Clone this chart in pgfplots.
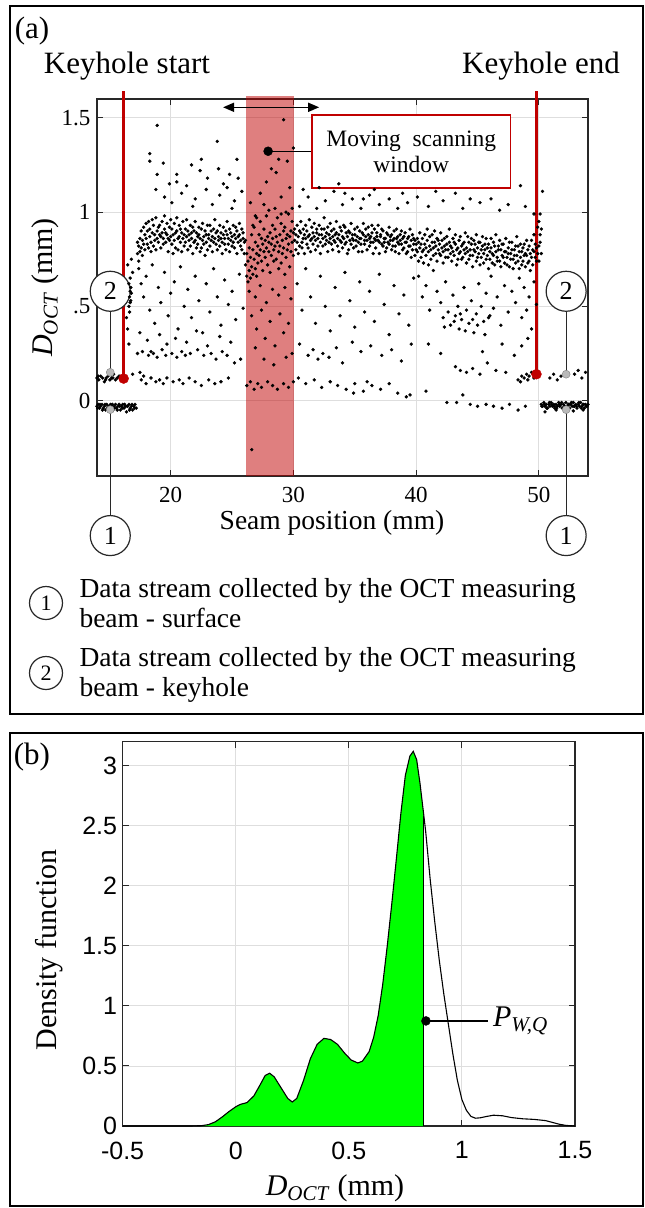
\documentclass[border=0pt]{standalone}
\usepackage{fontspec}
\setmainfont{Liberation Serif}
\newfontfamily\arialfont{Liberation Sans}
\usepackage{pgfplots}
\pgfplotsset{compat=1.18}
\usetikzlibrary{arrows.meta}
\definecolor{matred}{RGB}{192,0,0}
\definecolor{gridgray}{RGB}{222,222,222}
\definecolor{axgray}{RGB}{40,40,40}
\definecolor{dotgray}{RGB}{185,185,185}
\definecolor{kdegreen}{RGB}{0,255,0}

\pgfplotsset{matlab/.style={
  scale only axis, clip=false,
  axis line style={draw=axgray,line width=1.2pt},
  tick style={draw=axgray,line width=1pt}, major tick length=6pt,
  tick align=inside, xtick pos=both, ytick pos=both,
  grid=major, major grid style={draw=gridgray,line width=0.9pt},
  /pgf/number format/assume math mode=true,
}}
\newcommand{\doct}{\textit{D}\textsubscript{\textit{OCT}}}

\begin{document}
\begin{tikzpicture}
\useasboundingbox (0pt,0pt) rectangle (645pt,-1208pt);
\draw[line width=1.2pt] (10pt,-6pt) rectangle (643pt,-714pt);
\draw[line width=1.2pt] (10pt,-733pt) rectangle (643pt,-1206pt);

% ---------------- panel (a)
\begin{axis}[matlab, at={(97pt,-476pt)}, anchor=south west,
  width=491pt, height=377pt,
  xmin=14, xmax=54, ymin=-0.4, ymax=1.6,
  xtick={20,30,40,50}, ytick={0,0.5,1,1.5}, yticklabels={0,.5,1,1.5},
  tick label style={font=\fontsize{23}{23}\selectfont},
  xticklabel style={yshift=-8pt}, yticklabel style={xshift=-3pt},
]
% surface and keyhole streams, left
\addplot[only marks, mark=*, mark size=1.5pt, black] coordinates {
(14.0,-0.03)(14.1,-0.02)(14.2,-0.04)(14.3,-0.03)(14.4,-0.02)(14.5,-0.04)(14.6,-0.03)(14.7,-0.05)(14.8,-0.02)(14.9,-0.03)
(15.0,-0.04)(15.1,-0.02)(15.2,-0.03)(15.3,-0.05)(15.4,-0.03)(15.5,-0.02)(15.6,-0.04)(15.7,-0.03)(15.8,-0.02)(15.9,-0.05)
(16.0,-0.03)(16.1,-0.02)(16.2,-0.04)(16.3,-0.03)(16.4,-0.06)(16.5,-0.03)(16.6,-0.02)(16.7,-0.04)(16.8,-0.03)(16.9,-0.05)
(17.0,-0.03)(17.1,-0.02)(17.2,-0.04)(14.05,-0.04)(14.25,-0.02)(14.45,-0.05)(14.65,-0.02)(14.85,-0.04)(15.05,-0.03)
(15.25,-0.02)(15.45,-0.04)(15.65,-0.05)(15.85,-0.03)(16.05,-0.04)(16.25,-0.02)(16.45,-0.03)(16.65,-0.05)(16.85,-0.02)(17.05,-0.04)
(14.0,0.12)(14.15,0.11)(14.3,0.13)(14.45,0.12)(14.6,0.10)(14.75,0.12)(14.9,0.13)(15.05,0.11)(15.2,0.12)(15.35,0.14)
(15.5,0.11)(15.65,0.12)(15.8,0.13)(15.95,0.11)(14.1,0.13)(14.7,0.11)(15.3,0.12)(15.9,0.12)
(16.9,0.14)(17.5,0.15)(17.8,0.13)
(16.6,0.62)(16.7,0.58)(16.65,0.55)(16.75,0.60)(16.7,0.52)(16.6,0.50)(16.8,0.57)(16.7,0.65)(16.65,0.47)(16.75,0.53)
(16.5,0.72)(16.5,0.38)(16.6,0.30)(16.8,0.75)(16.9,0.68)(16.4,0.44)
% main band
(17.3,0.78)(17.3,0.84)(17.4,0.82)(17.4,0.74)(17.5,0.86)(17.5,0.79)(17.6,0.81)(17.6,0.90)(17.7,0.85)(17.7,0.77)
(17.8,0.92)(17.8,0.83)(17.9,0.80)(17.9,0.88)(18.0,0.86)(18.0,0.94)(18.1,0.83)(18.1,0.90)(18.2,0.95)(18.2,0.81)
(18.3,0.87)(18.3,0.91)(18.4,0.84)(18.4,0.79)(18.5,0.89)(18.5,0.96)(18.6,0.82)(18.6,0.93)(18.7,0.88)(18.7,0.85)
(18.8,0.97)(18.8,0.80)(18.9,0.90)(18.9,0.86)(19.0,0.84)(19.0,0.92)(19.1,0.93)(19.1,0.88)(19.2,0.81)(19.2,0.87)
(19.3,0.95)(19.3,0.89)(19.4,0.86)(19.4,0.83)(19.5,0.91)(19.5,0.98)(19.6,0.84)(19.6,0.89)(19.7,0.88)(19.7,0.94)
(19.8,0.79)(19.8,0.86)(19.9,0.92)(19.9,0.85)(20.0,0.87)(20.0,0.96)
(20.1,0.83)(20.1,0.91)(20.2,0.88)(20.2,0.78)(20.3,0.94)(20.3,0.85)(20.4,0.81)(20.4,0.89)(20.5,0.90)(20.5,0.97)
(20.6,0.86)(20.6,0.80)(20.7,0.93)(20.7,0.87)(20.8,0.84)(20.8,0.91)(20.9,0.89)(20.9,0.79)(21.0,0.95)(21.0,0.86)
(21.1,0.82)(21.1,0.88)(21.2,0.91)(21.2,0.84)(21.3,0.87)(21.3,0.96)(21.4,0.80)(21.4,0.90)(21.5,0.88)(21.5,0.85)
(21.6,0.93)(21.6,0.82)(21.7,0.86)(21.7,0.89)(21.8,0.78)(21.8,0.92)(21.9,0.90)(21.9,0.84)(22.0,0.85)(22.0,0.95)
(22.1,0.89)(22.1,0.81)(22.2,0.83)(22.2,0.87)(22.3,0.92)(22.3,0.88)(22.4,0.86)(22.4,0.79)(22.5,0.81)(22.5,0.91)
(22.6,0.94)(22.6,0.85)(22.7,0.87)(22.7,0.83)(22.8,0.90)(22.8,0.77)(22.9,0.84)(22.9,0.88)(23.0,0.80)(23.0,0.93)
(23.1,0.88)(23.1,0.86)(23.2,0.93)(23.2,0.82)(23.3,0.85)(23.3,0.90)(23.4,0.79)(23.4,0.87)(23.5,0.91)(23.5,0.84)
(23.6,0.86)(23.6,0.96)(23.7,0.83)(23.7,0.89)(23.8,0.90)(23.8,0.80)(23.9,0.87)(23.9,0.85)(24.0,0.82)(24.0,0.93)
(24.1,0.89)(24.1,0.86)(24.2,0.84)(24.2,0.78)(24.3,0.92)(24.3,0.88)(24.4,0.86)(24.4,0.83)(24.5,0.80)(24.5,0.90)
(24.6,0.88)(24.6,0.95)(24.7,0.83)(24.7,0.86)(24.8,0.91)(24.8,0.79)(24.9,0.85)(24.9,0.89)(25.0,0.87)(25.0,0.82)
(25.1,0.93)(25.1,0.84)(25.2,0.81)(25.2,0.88)(25.3,0.86)(25.3,0.92)(25.4,0.90)(25.4,0.78)(25.5,0.84)(25.5,0.87)
(25.6,0.88)(25.6,0.94)(25.7,0.82)(25.7,0.85)(25.8,0.91)(25.8,0.80)(25.9,0.86)(25.9,0.89)(26.0,0.78)(26.0,0.84)
(26.1,0.72)(26.1,0.85)(26.2,0.66)(26.2,0.78)(26.3,0.63)(26.3,0.74)(26.4,0.69)(26.4,0.81)(26.5,0.65)(26.5,0.76)
(26.6,0.71)(26.6,0.88)(26.7,0.67)(26.7,0.80)(26.8,0.75)(26.8,0.92)(26.9,0.70)(26.9,0.84)(27.0,0.78)(27.0,0.66)
(27.1,0.82)(27.1,0.73)(27.2,0.88)(27.2,0.77)(27.3,0.80)(27.3,0.95)(27.4,0.74)(27.4,0.86)(27.5,0.83)(27.5,0.69)
(27.6,0.79)(27.6,0.91)(27.7,0.85)(27.7,0.76)(27.8,0.81)(27.8,0.98)(27.9,0.72)(27.9,0.87)(28.0,0.84)(28.0,0.79)
(28.1,0.89)(28.1,0.68)(28.2,0.77)(28.2,0.83)(28.3,0.86)(28.3,0.93)(28.4,0.80)(28.4,0.74)(28.5,0.91)(28.5,0.82)
(28.6,0.75)(28.6,0.87)(28.7,0.84)(28.7,0.97)(28.8,0.79)(28.8,0.70)(28.9,0.88)(28.9,0.82)(29.0,0.73)(29.0,0.94)
(29.1,0.85)(29.1,0.78)(29.2,0.81)(29.2,0.90)(29.3,0.92)(29.3,0.67)(29.4,0.76)(29.4,0.86)(29.5,0.88)(29.5,0.80)
(29.6,0.83)(29.6,0.99)(29.7,0.71)(29.7,0.87)(29.8,0.90)(29.8,0.79)(29.9,0.84)(29.9,0.95)(30.0,0.77)(30.0,0.89)
(26.4,0.58)(26.9,0.55)(27.3,0.61)(27.8,0.52)(28.3,0.59)(28.8,0.56)(29.3,0.60)(29.8,0.54)(27.0,0.97)(28.0,1.01)
(29.0,0.99)(29.9,1.02)(26.7,0.93)
(30.1,0.85)(30.1,0.91)(30.2,0.80)(30.2,0.88)(30.3,0.93)(30.3,0.84)(30.4,0.87)(30.4,0.78)(30.5,0.82)(30.5,0.90)
(30.6,0.89)(30.6,0.95)(30.7,0.84)(30.7,0.81)(30.8,0.91)(30.8,0.86)(30.9,0.78)(30.9,0.88)(31.0,0.86)(31.0,0.93)
(31.1,0.90)(31.1,0.83)(31.2,0.81)(31.2,0.87)(31.3,0.88)(31.3,0.96)(31.4,0.85)(31.4,0.79)(31.5,0.92)(31.5,0.86)
(31.6,0.83)(31.6,0.89)(31.7,0.87)(31.7,0.94)(31.8,0.80)(31.8,0.85)(31.9,0.89)(31.9,0.91)(32.0,0.86)(32.0,0.82)
(32.1,0.93)(32.1,0.88)(32.2,0.84)(32.2,0.78)(32.3,0.88)(32.3,0.91)(32.4,0.82)(32.4,0.86)(32.5,0.91)(32.5,0.97)
(32.6,0.87)(32.6,0.83)(32.7,0.85)(32.7,0.89)(32.8,0.79)(32.8,0.92)(32.9,0.88)(32.9,0.84)(33.0,0.94)(33.0,0.86)
(33.1,0.83)(33.1,0.90)(33.2,0.87)(33.2,0.80)(33.3,0.91)(33.3,0.85)(33.4,0.84)(33.4,0.88)(33.5,0.89)(33.5,0.95)
(33.6,0.82)(33.6,0.86)(33.7,0.88)(33.7,0.79)(33.8,0.85)(33.8,0.92)(33.9,0.90)(33.9,0.84)(34.0,0.81)(34.0,0.87)
(34.1,0.86)(34.1,0.93)(34.2,0.92)(34.2,0.83)(34.3,0.84)(34.3,0.89)(34.4,0.87)(34.4,0.78)(34.5,0.80)(34.5,0.90)
(34.6,0.89)(34.6,0.85)(34.7,0.83)(34.7,0.94)(34.8,0.88)(34.8,0.86)(34.9,0.85)(34.9,0.81)(35.0,0.91)(35.0,0.88)
(35.1,0.82)(35.1,0.85)(35.2,0.87)(35.2,0.92)(35.3,0.84)(35.3,0.79)(35.4,0.90)(35.4,0.86)(35.5,0.86)(35.5,0.83)
(35.6,0.79)(35.6,0.89)(35.7,0.88)(35.7,0.94)(35.8,0.83)(35.8,0.85)(35.9,0.91)(35.9,0.87)(36.0,0.85)(36.0,0.80)
(36.1,0.88)(36.1,0.92)(36.2,0.82)(36.2,0.86)(36.3,0.87)(36.3,0.84)(36.4,0.93)(36.4,0.89)(36.5,0.84)(36.5,0.78)
(36.6,0.86)(36.6,0.91)(36.7,0.81)(36.7,0.85)(36.8,0.89)(36.8,0.87)(36.9,0.85)(36.9,0.93)(37.0,0.78)(37.0,0.84)
(37.1,0.87)(37.1,0.88)(37.2,0.83)(37.2,0.91)(37.3,0.90)(37.3,0.82)(37.4,0.84)(37.4,0.86)(37.5,0.86)(37.5,0.79)
(37.6,0.81)(37.6,0.89)(37.7,0.88)(37.7,0.84)(37.8,0.83)(37.8,0.92)(37.9,0.87)(37.9,0.85)(38.0,0.80)(38.0,0.88)
(38.1,0.85)(38.1,0.82)(38.2,0.90)(38.2,0.86)(38.3,0.82)(38.3,0.79)(38.4,0.86)(38.4,0.91)(38.5,0.84)(38.5,0.87)
(38.6,0.78)(38.6,0.83)(38.7,0.88)(38.7,0.85)(38.8,0.83)(38.8,0.90)(38.9,0.86)(38.9,0.80)(39.0,0.81)(39.0,0.87)
(39.1,0.89)(39.1,0.84)(39.2,0.84)(39.2,0.78)(39.3,0.79)(39.3,0.86)(39.4,0.87)(39.4,0.82)(39.5,0.82)(39.5,0.91)
(39.6,0.85)(39.6,0.76)(39.7,0.80)(39.7,0.88)(39.8,0.86)(39.8,0.83)(39.9,0.77)(39.9,0.85)(40.0,0.83)(40.0,0.80)
(40.1,0.79)(40.1,0.86)(40.2,0.84)(40.2,0.74)(40.3,0.81)(40.3,0.89)(40.4,0.76)(40.4,0.83)(40.5,0.86)(40.5,0.79)
(40.6,0.80)(40.6,0.73)(40.7,0.83)(40.7,0.88)(40.8,0.77)(40.8,0.81)(40.9,0.85)(40.9,0.91)(41.0,0.79)(41.0,0.72)
(41.1,0.82)(41.1,0.87)(41.2,0.75)(41.2,0.80)(41.3,0.88)(41.3,0.84)(41.4,0.81)(41.4,0.77)(41.5,0.84)(41.5,0.90)
(41.6,0.78)(41.6,0.82)(41.7,0.86)(41.7,0.74)(41.8,0.80)(41.8,0.85)(41.9,0.83)(41.9,0.78)(42.0,0.77)(42.0,0.89)
(42.1,0.85)(42.1,0.81)(42.2,0.79)(42.2,0.73)(42.3,0.82)(42.3,0.86)(42.4,0.76)(42.4,0.80)(42.5,0.87)(42.5,0.83)
(42.6,0.80)(42.6,0.76)(42.7,0.84)(42.7,0.91)(42.8,0.78)(42.8,0.82)(42.9,0.81)(42.9,0.74)(43.0,0.86)(43.0,0.79)
(43.1,0.77)(43.1,0.84)(43.2,0.83)(43.2,0.88)(43.3,0.80)(43.3,0.72)(43.4,0.75)(43.4,0.81)(43.5,0.85)(43.5,0.78)
(43.6,0.79)(43.6,0.87)(43.7,0.82)(43.7,0.75)(43.8,0.76)(43.8,0.83)(43.9,0.84)(43.9,0.80)(44.0,0.78)(44.0,0.89)
(44.1,0.81)(44.1,0.73)(44.2,0.87)(44.2,0.79)(44.3,0.75)(44.3,0.84)(44.4,0.80)(44.4,0.77)(44.5,0.83)(44.5,0.86)
(44.6,0.77)(44.6,0.71)(44.7,0.85)(44.7,0.80)(44.8,0.79)(44.8,0.83)(44.9,0.74)(44.9,0.88)(45.0,0.81)(45.0,0.76)
(45.1,0.78)(45.1,0.84)(45.2,0.84)(45.2,0.72)(45.3,0.76)(45.3,0.80)(45.4,0.82)(45.4,0.87)(45.5,0.73)(45.5,0.78)
(45.6,0.80)(45.6,0.83)(45.7,0.86)(45.7,0.75)(45.8,0.77)(45.8,0.81)(45.9,0.83)(45.9,0.70)(46.0,0.75)(46.0,0.79)
(46.1,0.81)(46.1,0.86)(46.2,0.78)(46.2,0.73)(46.3,0.84)(46.3,0.77)(46.4,0.72)(46.4,0.82)(46.5,0.79)(46.5,0.88)
(46.6,0.76)(46.6,0.74)(46.7,0.82)(46.7,0.80)(46.8,0.74)(46.8,0.85)(46.9,0.80)(46.9,0.71)(47.0,0.77)(47.0,0.83)
(47.1,0.83)(47.1,0.76)(47.2,0.73)(47.2,0.79)(47.3,0.79)(47.3,0.86)(47.4,0.76)(47.4,0.72)(47.5,0.81)(47.5,0.78)
(47.6,0.71)(47.6,0.84)(47.7,0.78)(47.7,0.75)(47.8,0.84)(47.8,0.80)(47.9,0.75)(47.9,0.70)(48.0,0.80)(48.0,0.77)
(48.1,0.73)(48.1,0.82)(48.2,0.77)(48.2,0.87)(48.3,0.82)(48.3,0.74)(48.4,0.70)(48.4,0.79)(48.5,0.76)(48.5,0.83)
(48.6,0.79)(48.6,0.72)(48.7,0.74)(48.7,0.81)(48.8,0.83)(48.8,0.77)(48.9,0.71)(48.9,0.78)(49.0,0.77)(49.0,0.85)
(49.1,0.80)(49.1,0.73)(49.2,0.74)(49.2,0.82)(49.3,0.78)(49.3,0.69)(49.4,0.85)(49.4,0.76)(49.5,0.72)(49.5,0.80)
(49.6,0.79)(49.6,0.88)(49.7,0.76)(49.7,0.83)(49.8,0.81)(49.8,0.74)(49.9,0.78)(49.9,0.92)
(50.0,0.95)(50.1,0.88)(50.0,0.82)(50.2,0.78)(50.1,0.99)(50.0,0.74)(50.2,0.91)(50.1,0.84)
% high outliers
(18.9,1.46)(18.3,1.31)(18.3,1.27)(19.4,1.26)(18.9,1.20)(20.5,1.16)(21.7,1.25)(22.5,1.28)(23.8,1.375)(25.4,1.28)
(29.2,1.49)(30.0,1.34)(28.8,1.28)(29.5,1.27)(28.6,1.21)
(18.8,1.12)(19.5,1.08)(20.1,1.05)(20.9,1.10)(21.3,1.14)(22.0,1.07)(22.9,1.12)(23.4,1.04)(24.0,1.09)(24.6,1.13)
(25.2,1.06)(25.8,1.11)(19.9,1.15)(21.8,1.03)(23.0,1.18)(24.3,1.15)(25.0,1.02)(20.5,1.20)(22.4,1.22)(23.9,1.23)
(24.8,1.20)(25.5,1.18)(26.5,1.05)(27.3,1.10)(27.8,1.16)(28.5,1.02)(29.0,1.08)(29.7,1.13)(26.9,0.98)(28.2,1.23)
(29.4,1.00)(27.6,1.04)
(48.5,1.14)(50.3,1.11)(43.2,1.10)(34.2,1.10)(35.7,1.07)(46.1,1.07)(44.4,1.07)(47.5,1.04)
(30.5,1.03)(31.2,1.08)(31.9,1.02)(32.6,1.06)(33.3,1.11)(34.0,1.04)(34.8,1.07)(35.5,1.02)(36.2,1.09)(37.0,1.04)
(37.8,1.07)(38.5,1.02)(39.3,1.05)(40.1,1.08)(41.0,1.03)(42.2,1.06)(43.8,1.02)(45.2,1.05)(46.8,1.01)(48.9,1.03)
(49.6,0.99)(30.8,1.12)(32.1,1.13)(33.7,1.15)(36.6,1.12)(38.9,1.10)(41.6,1.11)
% lower scatter
(17.4,0.70)(17.6,0.62)(17.8,0.55)(18.0,0.66)(18.3,0.48)(18.5,0.72)(18.7,0.41)(19.0,0.60)(19.2,0.52)(19.5,0.68)
(19.8,0.45)(20.0,0.57)(20.3,0.63)(20.6,0.38)(20.8,0.71)(21.1,0.50)(21.4,0.59)(21.7,0.44)(22.0,0.66)(22.3,0.53)
(22.6,0.36)(22.9,0.62)(23.2,0.47)(23.5,0.70)(23.8,0.55)(24.1,0.40)(24.4,0.64)(24.7,0.51)(25.0,0.58)(25.3,0.43)
(25.6,0.67)(25.9,0.49)(17.5,0.36)(18.1,0.32)(19.1,0.35)(19.7,0.30)(20.4,0.33)(21.3,0.31)(22.1,0.37)(23.0,0.29)
(24.0,0.34)(24.9,0.31)
(17.3,0.25)(17.7,0.26)(18.2,0.24)(18.4,0.26)(18.6,0.25)(18.9,0.23)(19.3,0.27)(19.6,0.24)(20.1,0.25)(20.5,0.23)
(20.9,0.26)(21.2,0.24)(21.6,0.25)(22.2,0.27)(22.7,0.24)(23.3,0.25)(23.7,0.22)(24.2,0.26)(24.6,0.24)(25.2,0.20)
(25.7,0.22)
(17.6,0.11)(18.0,0.09)(18.4,0.12)(18.8,0.10)(19.1,0.11)(19.4,0.09)(19.7,0.12)(20.2,0.10)(20.7,0.11)(21.0,0.09)
(21.5,0.12)(22.0,0.10)(22.5,0.08)(23.1,0.11)(23.6,0.09)(24.1,0.10)(24.7,0.12)
(26.2,0.08)(26.5,0.10)(26.8,0.06)(27.1,0.09)(27.4,0.07)(27.9,0.10)(28.3,0.08)(28.7,0.06)(29.2,0.09)(29.6,0.07)
(30.0,0.10)(26.6,0.45)(27.0,0.38)(27.4,0.48)(27.7,0.33)(28.1,0.42)(28.5,0.29)(28.9,0.46)(29.2,0.36)(29.6,0.41)
(29.9,0.25)(26.9,0.28)(27.6,0.22)(28.4,0.19)(29.4,0.23)(26.6,-0.26)
(30.3,0.62)(30.7,0.48)(31.0,0.70)(31.4,0.55)(31.8,0.41)(32.2,0.66)(32.6,0.50)(33.0,0.37)(33.4,0.60)(33.8,0.45)
(34.2,0.68)(34.6,0.53)(35.0,0.39)(35.4,0.63)(35.8,0.47)(36.2,0.58)(36.6,0.42)(37.0,0.67)(37.4,0.51)(37.8,0.35)
(38.2,0.61)(38.6,0.46)(39.0,0.56)(39.4,0.40)(39.8,0.65)
(30.5,0.30)(31.2,0.24)(31.6,0.27)(32.0,0.22)(32.4,0.25)(32.9,0.23)(33.5,0.28)(34.0,0.20)(34.8,0.31)(35.5,0.26)
(36.3,0.29)(37.2,0.24)(38.0,0.27)(38.8,0.21)(39.6,0.30)
(30.4,0.12)(31.0,0.09)(31.7,0.11)(32.3,0.07)(33.0,0.10)(33.6,0.08)(34.3,0.06)(35.0,0.09)(35.7,0.05)(36.4,0.08)
(37.1,0.06)(37.8,0.09)(38.5,0.04)(39.2,0.02)(39.5,0.03)(34.9,0.04)(36.0,0.10)
(40.2,0.66)(40.5,0.55)(40.8,0.61)(41.1,0.48)(41.4,0.69)(41.7,0.58)(42.0,0.52)(42.2,0.44)(42.4,0.63)(42.6,0.47)
(42.8,0.40)(43.0,0.56)(43.2,0.45)(43.4,0.50)(43.5,0.38)(43.7,0.43)(43.9,0.60)(44.1,0.48)(44.3,0.41)(44.5,0.53)
(44.7,0.36)(44.9,0.46)(45.1,0.62)(45.3,0.50)(45.5,0.42)(45.7,0.57)(45.9,0.44)(46.1,0.66)(46.3,0.49)(46.6,0.55)
(46.9,0.40)(47.2,0.61)(47.5,0.47)(47.8,0.58)(48.1,0.52)(48.4,0.65)(48.6,0.44)(48.8,0.60)(49.0,0.48)(49.2,0.55)
(49.4,0.38)(49.6,0.63)(49.8,0.51)
(42.3,0.39)(43.1,0.42)(43.6,0.46)(44.0,0.37)(44.6,0.43)(45.0,0.40)(45.6,0.35)(46.0,0.45)
(41.0,0.30)(42.0,0.25)(43.2,0.18)(43.6,0.16)(44.1,0.15)(44.6,0.17)(45.2,0.14)(45.8,0.20)(46.5,0.16)(47.3,0.15)
(48.0,0.24)(48.6,0.29)(49.1,0.33)(47.0,0.30)(45.4,0.26)
(43.3,-0.01)(43.8,0.03)(44.4,-0.02)(45.0,-0.03)(45.7,-0.02)(46.3,-0.03)(47.0,-0.04)(47.6,-0.02)(48.3,-0.05)(48.9,-0.03)
(42.5,-0.01)(40.8,0.05)
(48.3,0.11)(48.6,0.13)(48.8,0.12)(49.0,0.14)(49.2,0.13)(49.4,0.15)(49.6,0.12)(49.9,0.14)(48.5,0.10)(49.1,0.11)
% surface and keyhole streams, right
(50.2,-0.02)(50.3,-0.03)(50.4,-0.01)(50.5,-0.03)(50.6,-0.02)(50.7,-0.04)(50.8,-0.02)(50.9,-0.03)(51.0,-0.01)(51.1,-0.03)
(51.2,-0.02)(51.3,-0.04)(51.4,-0.02)(51.5,-0.03)(51.6,-0.01)(51.7,-0.03)(51.8,-0.02)(51.9,-0.04)(52.0,-0.02)(52.1,-0.03)
(52.2,-0.01)(52.3,-0.03)(52.4,-0.02)(52.5,-0.04)(52.6,-0.02)(52.7,-0.03)(52.8,-0.01)(52.9,-0.03)(53.0,-0.02)(53.1,-0.04)
(53.2,-0.02)(53.3,-0.03)(53.4,-0.01)(53.5,-0.03)(53.6,-0.02)(53.7,-0.04)(53.8,-0.02)(53.9,-0.03)(54.0,-0.02)
(50.25,-0.03)(50.45,-0.02)(50.65,-0.04)(50.85,-0.01)(51.05,-0.02)(51.25,-0.03)(51.45,-0.04)(51.65,-0.02)(51.85,-0.01)
(52.05,-0.03)(52.25,-0.04)(52.45,-0.02)(52.65,-0.01)(52.85,-0.03)(53.05,-0.03)(53.25,-0.01)(53.45,-0.04)(53.65,-0.02)
(53.85,-0.03)(50.5,-0.06)(51.4,-0.05)(52.8,-0.055)(53.6,-0.05)
(50.9,0.12)(51.2,0.14)(51.5,0.11)(51.8,0.13)(52.9,0.14)(53.2,0.16)(53.5,0.12)(53.8,0.15)(52.2,0.13)
};
% moving scanning window
\addplot[draw=none, fill=matred, fill opacity=0.5] coordinates {
(26.17,-0.4)(30.08,-0.4)(30.08,1.614)(26.17,1.614)} -- cycle;
\addplot[black, line width=1.5pt, {Triangle[length=11pt,width=9pt]}-{Triangle[length=11pt,width=9pt]}]
  coordinates {(24.27,1.556)(32.1,1.556)};
\addplot[black, line width=1.2pt] coordinates {(27.94,1.323)(31.52,1.323)};
\addplot[only marks, mark=*, mark size=4.5pt, black] coordinates {(27.94,1.323)};
\addplot[draw=matred, fill=white, line width=1.5pt] coordinates {
(31.52,1.129)(47.68,1.129)(47.68,1.514)(31.52,1.514)} -- cycle;
\node[align=center, font=\fontsize{23.5}{26}\selectfont] at (axis cs:39.6,1.322)
  {Moving\ \ scanning\\window};
% keyhole start / end
\addplot[matred, line width=2.6pt] coordinates {(16.17,0.117)(16.17,1.64)};
\addplot[matred, line width=2.6pt] coordinates {(49.8,0.14)(49.8,1.64)};
\addplot[only marks, mark=*, mark size=5pt, matred] coordinates {(16.17,0.117)(49.8,0.14)};
% stream call-outs
\addplot[axgray, line width=1.2pt] coordinates {(15.08,0.58)(15.08,0.15)};
\addplot[axgray, line width=1.2pt] coordinates {(15.08,-0.716)(15.08,-0.048)};
\addplot[axgray, line width=1.2pt] coordinates {(52.22,0.58)(52.22,0.14)};
\addplot[axgray, line width=1.2pt] coordinates {(52.22,-0.716)(52.22,-0.048)};
\addplot[only marks, mark=*, mark size=4pt, mark options={fill=dotgray, draw=gray}]
  coordinates {(15.08,0.15)(15.08,-0.048)(52.22,0.14)(52.22,-0.048)};
\tikzset{callout/.style={circle, draw=axgray, line width=1.2pt, fill=white,
  minimum size=40pt, inner sep=0pt, font=\fontsize{26}{26}\selectfont}}
\node[callout] at (axis cs:15.08,0.58) {2};
\node[callout] at (axis cs:15.08,-0.716) {1};
\node[callout] at (axis cs:52.22,0.58) {2};
\node[callout] at (axis cs:52.22,-0.716) {1};
\end{axis}

\node[font=\fontsize{31}{31}\selectfont] at (32pt,-31pt) {(a)};
\node[font=\fontsize{31}{31}\selectfont] at (127pt,-66pt) {Keyhole start};
\node[font=\fontsize{31}{31}\selectfont] at (541pt,-66pt) {Keyhole end};
\node[rotate=90, font=\fontsize{30}{30}\selectfont] at (45pt,-287.5pt) {\doct\ (mm)};
\node[font=\fontsize{27.5}{27.5}\selectfont] at (332pt,-523pt) {Seam position (mm)};
% legend of the call-outs
\tikzset{keyc/.style={circle, draw=axgray, line width=1.2pt, fill=white,
  minimum size=33pt, inner sep=0pt, font=\fontsize{22}{22}\selectfont}}
\node[keyc] at (46pt,-603pt) {1};
\node[keyc] at (46pt,-673pt) {2};
\begin{scope}[every node/.style={anchor=base west, font=\fontsize{27.5}{27.5}\selectfont}]
\node at (76pt,-597pt) {Data stream collected by the OCT measuring};
\node at (76pt,-627pt) {beam - surface};
\node at (76pt,-666pt) {Data stream collected by the OCT measuring};
\node at (76pt,-696pt) {beam - keyhole};
\end{scope}

% ---------------- panel (b)
\begin{axis}[matlab, at={(122.6pt,-1126pt)}, anchor=south west,
  width=452.4pt, height=384.3pt,
  xmin=-0.5, xmax=1.5, ymin=0, ymax=3.2,
  xtick={-0.5,0,0.5,1,1.5}, ytick={0,0.5,1,1.5,2,2.5,3},
  tick label style={font=\arialfont\fontsize{25}{25}\selectfont},
  xticklabel style={yshift=-12pt}, yticklabel style={xshift=-2pt},
]
\addplot[draw=none, fill=kdegreen] coordinates {
(-0.15,0)(-0.15,0.003)(-0.12,0.012)(-0.09,0.035)(-0.06,0.075)(-0.03,0.12)(0,0.16)(0.02,0.18)(0.05,0.195)
(0.08,0.25)(0.11,0.35)(0.13,0.42)(0.15,0.44)(0.17,0.41)(0.20,0.32)(0.23,0.23)(0.25,0.20)(0.27,0.23)
(0.30,0.38)(0.33,0.56)(0.36,0.68)(0.39,0.73)(0.42,0.72)(0.45,0.68)(0.48,0.61)(0.51,0.55)(0.54,0.525)
(0.56,0.54)(0.59,0.62)(0.61,0.74)(0.63,0.92)(0.65,1.18)(0.67,1.50)(0.69,1.85)(0.71,2.22)(0.73,2.60)
(0.75,2.92)(0.77,3.08)(0.785,3.12)(0.80,3.05)(0.815,2.85)(0.832,2.58)(0.832,0)} -- cycle;
\addplot[black, line width=1.1pt] coordinates {
(-0.5,0)(-0.2,0)(-0.15,0.003)(-0.12,0.012)(-0.09,0.035)(-0.06,0.075)(-0.03,0.12)(0,0.16)(0.02,0.18)(0.05,0.195)
(0.08,0.25)(0.11,0.35)(0.13,0.42)(0.15,0.44)(0.17,0.41)(0.20,0.32)(0.23,0.23)(0.25,0.20)(0.27,0.23)
(0.30,0.38)(0.33,0.56)(0.36,0.68)(0.39,0.73)(0.42,0.72)(0.45,0.68)(0.48,0.61)(0.51,0.55)(0.54,0.525)
(0.56,0.54)(0.59,0.62)(0.61,0.74)(0.63,0.92)(0.65,1.18)(0.67,1.50)(0.69,1.85)(0.71,2.22)(0.73,2.60)
(0.75,2.92)(0.77,3.08)(0.785,3.12)(0.80,3.05)(0.815,2.85)(0.832,2.58)(0.84,2.45)(0.86,2.05)(0.88,1.70)
(0.90,1.38)(0.92,1.10)(0.94,0.85)(0.96,0.60)(0.98,0.38)(1.00,0.22)(1.02,0.13)(1.04,0.08)(1.06,0.065)
(1.08,0.068)(1.11,0.08)(1.14,0.09)(1.18,0.085)(1.22,0.07)(1.27,0.06)(1.32,0.055)(1.37,0.045)(1.40,0.03)
(1.43,0.015)(1.46,0.005)(1.5,0)};
\addplot[black, line width=1.1pt] coordinates {(0.832,0)(0.832,2.58)};
\addplot[black, line width=1.2pt] coordinates {(0.841,0.875)(1.117,0.875)};
\addplot[only marks, mark=*, mark size=4.5pt, black] coordinates {(0.841,0.875)};
\node[anchor=west, font=\fontsize{30}{30}\selectfont] at (axis cs:1.122,0.875)
  {\textit{P}\textsubscript{\textit{W,Q}}};
\end{axis}

\node[font=\fontsize{31}{31}\selectfont] at (32pt,-757pt) {(b)};
\node[rotate=90, font=\fontsize{30}{30}\selectfont] at (49pt,-950pt) {Density function};
\node[font=\fontsize{30}{30}\selectfont] at (335pt,-1188pt) {\doct\ (mm)};
\end{tikzpicture}
\end{document}
